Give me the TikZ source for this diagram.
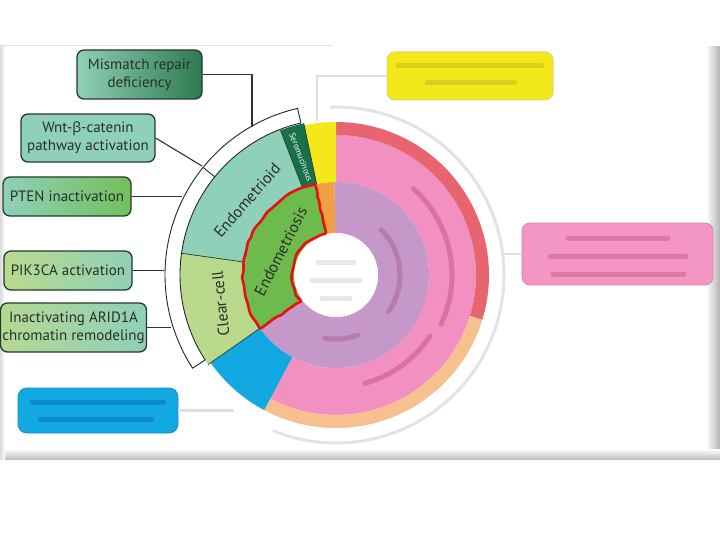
\documentclass[tikz,border=0pt]{standalone}
\usepackage{fontspec}
\setmainfont{PT Sans}
\newfontfamily\grkfont{Open Sans}
\usetikzlibrary{calc,decorations.pathmorphing}
\definecolor{tealA}{HTML}{8FD0B8}
\definecolor{dkgreen}{HTML}{2E7A4E}
\definecolor{grnB}{HTML}{72C05A}
\definecolor{lgreen}{HTML}{B9DA8C}
\definecolor{endoG}{HTML}{6CBB4C}
\definecolor{seroG}{HTML}{17704A}
\definecolor{pinkC}{HTML}{F291C1}
\definecolor{purpC}{HTML}{C598C9}
\definecolor{redC}{HTML}{E8646F}
\definecolor{peachC}{HTML}{F6C18F}
\definecolor{yellC}{HTML}{F3E81A}
\definecolor{orngC}{HTML}{EFA040}
\definecolor{blueC}{HTML}{12A8E2}
\definecolor{boxline}{HTML}{253A2E}
\definecolor{txt}{HTML}{2A2F2A}
\definecolor{redline}{HTML}{E8100E}
\newcommand\annsec[5]{\fill[#1] ($(C)+(#2:#4pt)$) arc[start angle=#2,end angle=#3,radius=#4pt] -- ($(C)+(#3:#5pt)$) arc[start angle=#3,end angle=#2,radius=#5pt] -- cycle;}
\tikzset{
  gbox/.style={rounded corners=7pt, draw=boxline, line width=1.3pt, minimum height=#1, inner sep=0pt, align=center, text=txt, font=\fontsize{15}{18}\selectfont},
  conn/.style={draw=black!80, line width=1.1pt},
  softconn/.style={draw=black!13, line width=2.5pt},
  segtext/.style={text=txt, font=\fontsize{16}{16}\selectfont, inner sep=0pt},
  blurtxt/.style={line width=5pt, line cap=round, opacity=0.22},
}
\begin{document}
\begin{tikzpicture}[x=1pt,y=1pt]
\useasboundingbox (0,0) rectangle (720,-540);
\fill[white] (0,0) rectangle (720,-540);
% frame edges
\draw[black!12, line width=1pt] (0,-46) -- (333,-46);
\shade[left color=white, right color=black!30] (706,-47) rectangle (720,-459);
\shade[top color=white, bottom color=black!25] (0,-449) rectangle (720,-459);
\shade[left color=black!14, right color=white] (0,-47) rectangle (5,-459);
\coordinate (C) at (336,-275);
% outer soft gray ring
\draw[black!11, line width=3pt] ($(C)+(92:168pt)$) arc[start angle=92,end angle=-112,radius=168pt];
% right (blurred) rings
\annsec{pinkC}{-118}{90}{93}{140}
\annsec{redC}{-17}{90}{140}{153}
\annsec{peachC}{-118}{-17}{140}{153}
\annsec{purpC}{-145}{91}{42}{93}
\annsec{orngC}{91}{103}{42}{93}
\annsec{yellC}{90}{102}{93}{153}
\annsec{blueC}{215}{242}{93}{153}
% inner white circle
\fill[white] (C) circle[radius=42pt];
% left segments
\annsec{seroG}{102}{111}{93}{155}
\annsec{tealA}{111}{172}{93}{156}
\annsec{lgreen}{172}{215}{93}{156}
\annsec{endoG}{103}{215}{42}{93}
\draw[boxline, line width=0.7pt] ($(C)+(111:93pt)$) -- ($(C)+(111:155pt)$);
\draw[boxline, line width=0.7pt] ($(C)+(172:93pt)$) -- ($(C)+(172:156pt)$);
\draw[boxline, line width=0.7pt] ($(C)+(215:93pt)$) -- ($(C)+(215:156pt)$);
\draw[boxline, line width=0.7pt] ($(C)+(102:93pt)$) -- ($(C)+(102:155pt)$);
% white bracket band
\annsec{white}{103}{213}{156}{171}
\draw[black!85, line width=0.9pt] ($(C)+(103:156pt)$) -- ($(C)+(103:171pt)$) arc[start angle=103,end angle=213,radius=171pt] -- ($(C)+(213:156pt)$);
\draw[black!85, line width=0.9pt] ($(C)+(103:156pt)$) arc[start angle=103,end angle=213,radius=156pt];
\draw[black!85, line width=0.9pt] ($(C)+(141:156pt)$) -- ($(C)+(141:171pt)$);
% red outline of endometriosis
\pgfmathsetseed{11}
\draw[redline, line width=2.6pt, line join=round, rounded corners=1.5pt, decorate, decoration={random steps, segment length=6pt, amplitude=1.1pt}]
  ($(C)+(103:93pt)$) arc[start angle=103,end angle=215,radius=93pt] -- ($(C)+(217:44pt)$) arc[start angle=217,end angle=103,radius=43pt] -- cycle;
% segment labels
\node[segtext, rotate=49] (tEndoid) at ($(C)+(140:116pt)$) {Endometrioid};
\node[segtext, rotate=96] (tClear) at ($(C)+(194:119pt)$) {Clear-cell};
\node[segtext, rotate=63] (tEndosis) at ($(C)+(157:60pt)$) {Endometriosis};
\node[text=white, font=\fontsize{8.5}{9}\selectfont, rotate=-69, inner sep=0pt] (tSero) at ($(C)+(106.5:123pt)$) {Seromucinous};
% blurred texts on right
\draw[blurtxt, draw=black!40] (318,-262) -- (354,-262);
\draw[blurtxt, draw=black!40] (312,-280) -- (360,-280);
\draw[blurtxt, draw=black!40] (322,-298) -- (350,-298);
\draw[blurtxt, draw=purple!60!black, opacity=0.18] ($(C)+(45:64pt)$) arc[start angle=45,end angle=-35,radius=64pt];
\draw[blurtxt, draw=purple!60!black, opacity=0.18] ($(C)+(-70:64pt)$) arc[start angle=-70,end angle=-100,radius=64pt];
\draw[blurtxt, draw=purple!70!black, opacity=0.22] ($(C)+(48:116pt)$) arc[start angle=48,end angle=-25,radius=116pt];
\draw[blurtxt, draw=purple!70!black, opacity=0.22] ($(C)+(-33:112pt)$) arc[start angle=-33,end angle=-75,radius=112pt];
% left boxes
\node[gbox=49pt, minimum width=125pt, left color=tealA, middle color=tealA, right color=dkgreen] (mm) at (139.5,-74.5) {Mismatch repair\\deficiency};
\node[gbox=48pt, minimum width=134pt, fill=tealA] (wnt) at (88,-138) {Wnt-{\grkfont\fontsize{14}{18}\selectfont β}-catenin\\pathway activation};
\node[gbox=39pt, minimum width=128pt, left color=tealA, middle color=tealA, right color=grnB] (pten) at (67,-196.5) {PTEN inactivation};
\node[gbox=39pt, minimum width=128pt, left color=lgreen, right color=tealA] (pik) at (68,-270.5) {PIK3CA activation};
\node[gbox=49pt, minimum width=146pt, left color=lgreen!85!tealA, right color=tealA] (arid) at (73.5,-327.5) {Inactivating ARID1A\\chromatin remodeling};
% blurred boxes
\node[rounded corners=8pt, draw=yellC!80!black!60, line width=1pt, fill=yellC, minimum width=166pt, minimum height=48pt, inner sep=0pt] (yel) at (470,-76) {};
\node[rounded corners=8pt, draw=pinkC!90!black, line width=0.8pt, fill=pinkC!95!white, minimum width=191pt, minimum height=62pt, inner sep=0pt] (pk) at (617.5,-254) {};
\node[rounded corners=9pt, draw=blueC!85!black, line width=0.8pt, fill=blueC, minimum width=160pt, minimum height=45pt, inner sep=0pt] (blu) at (98,-410.5) {};
\draw[blurtxt, draw=olive!70!black, opacity=0.18] (398,-66) -- (542,-66);
\draw[blurtxt, draw=olive!70!black, opacity=0.18] (427,-83) -- (515,-83);
\draw[blurtxt, draw=purple!70!black, opacity=0.2] (568,-238) -- (668,-238);
\draw[blurtxt, draw=purple!70!black, opacity=0.2] (550,-256) -- (686,-256);
\draw[blurtxt, draw=purple!70!black, opacity=0.2] (553,-274) -- (684,-274);
\draw[blurtxt, draw=blue!60!black, opacity=0.18] (32,-402) -- (164,-402);
\draw[blurtxt, draw=blue!60!black, opacity=0.18] (40,-419) -- (152,-419);
% connector ends
\coordinate (mmEnd) at (252,-127);
\coordinate (wntEnd) at (202,-166);
\coordinate (ptenEnd) at (182,-196.5);
\coordinate (pikEnd) at (164,-270.5);
\coordinate (aridEnd) at (171,-327.5);
\coordinate (yelEnd) at (317,-121);
\coordinate (pkEnd) at (504,-254);
\coordinate (bluEnd) at (234,-410.5);
\draw[conn] (mm.east) -| (mmEnd);
\draw[conn] (wnt.east) -- (wntEnd);
\draw[conn] (pten.east) -- (ptenEnd);
\draw[conn] (pik.east) -- (pikEnd);
\draw[conn] (arid.east) -- (aridEnd);
\draw[softconn] (yel.west) -| (yelEnd);
\draw[softconn] (pkEnd) -- (pk.west);
\draw[softconn] (blu.east) -- (bluEnd);
\end{tikzpicture}
\end{document}
